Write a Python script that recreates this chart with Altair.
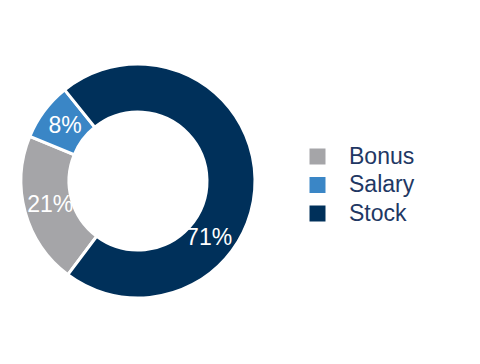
import math
import altair as alt
import pandas as pd

# ---- data ----
categories = ["Bonus", "Salary", "Stock"]
shares = [21, 8, 71]
pct_labels = ["21%", "8%", "71%"]
order_idx = [0, 1, 2]

# ---- styling / layout constants ----
colors = ["#a5a5a8", "#3a86c6", "#00305a"]
START = math.radians(216.8)          # angle where the first slice (Bonus) starts
STOCK_LABEL_SHIFT = 11               # label nudge for Stock slice (in share units)
FONT = "Liberation Sans"

df = pd.DataFrame({
    "category": categories,
    "share": shares,
    "label": pct_labels,
    "idx": order_idx,
})

theta_scale = alt.Scale(domain=[0, 100], range=[START, START + 2 * math.pi])

base = alt.Chart(df)

arcs = base.mark_arc(outerRadius=117, innerRadius=69, stroke="white", strokeWidth=3).encode(
    theta=alt.Theta("share:Q", stack=True, scale=theta_scale),
    color=alt.Color(
        "category:N",
        scale=alt.Scale(domain=categories, range=colors),
        legend=alt.Legend(
            title=None,
            orient="none",
            legendX=298,
            legendY=137,
            symbolType="square",
            symbolSize=256,
            symbolStrokeWidth=0,
            labelFontSize=23,
            labelFont=FONT,
            labelColor="#1f3864",
            labelOffset=20,
            rowPadding=4.5,
            padding=0,
        ),
    ),
    order=alt.Order("idx:Q"),
)

text = (
    base.transform_window(cum="sum(share)", sort=[alt.SortField("idx")])
    .transform_calculate(
        pos=f"datum.cum - datum.share / 2 + (datum.category == 'Stock' ? {STOCK_LABEL_SHIFT} : 0)"
    )
    .mark_text(radius=91, font=FONT, fontSize=23, color="white", align="center", baseline="middle")
    .encode(
        theta=alt.Theta("pos:Q", stack=None, scale=theta_scale),
        text="label:N",
    )
)

chart = (
    alt.layer(arcs, text)
    .properties(width=260, height=346, padding=0, background="white")
    .configure_view(stroke=None)
)

chart.save("out.html", embed_options={"renderer": "svg", "actions": False})
